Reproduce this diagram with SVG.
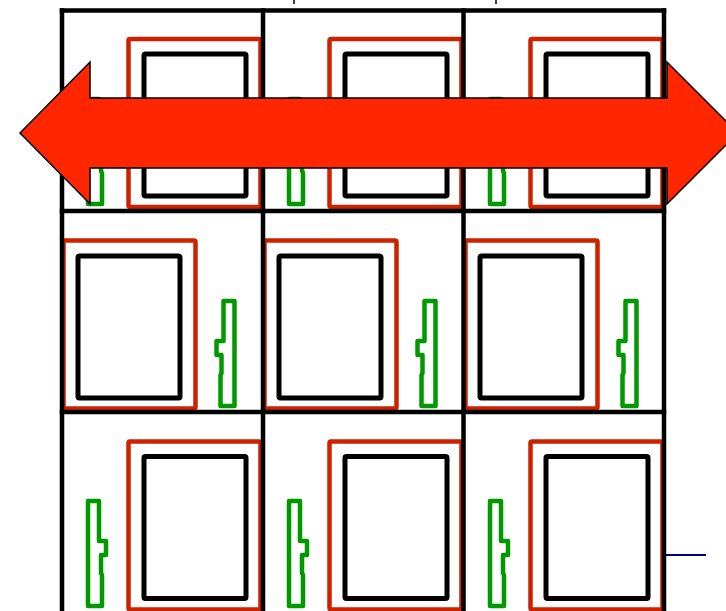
<svg xmlns="http://www.w3.org/2000/svg" width="726" height="611" viewBox="0 0 726 611">
<style>
.grid{stroke:#000;stroke-width:4.5;fill:none;stroke-linecap:square}
.frame{fill:none;stroke:#CC2200;stroke-width:4.5;stroke-linejoin:round}
.pane{fill:#fff;stroke:#000;stroke-width:5;stroke-linejoin:round}
.handle{fill:#fff;stroke:#009900;stroke-width:4.5;stroke-linejoin:round}
.arrow{fill:#FF2600;stroke:#000;stroke-width:1.5;stroke-linejoin:miter}
</style>
<defs>
<path id="h" d="M0,0 H11 V40 H18 V54 H13 V72 L14,74 V105 H0 Z"/>
</defs>
<rect width="726" height="611" fill="#fff"/>

<g id="cell-r1c1"><rect class="frame" x="128.5" y="39" width="132" height="168" rx="1.5"/><rect class="pane" x="144" y="54" width="102" height="142" rx="1.5"/><use class="handle" href="#h" transform="translate(88,99)"/></g>
<g id="cell-r1c2"><rect class="frame" x="329.5" y="39" width="132" height="168" rx="1.5"/><rect class="pane" x="345" y="54" width="102" height="142" rx="1.5"/><use class="handle" href="#h" transform="translate(289,99)"/></g>
<g id="cell-r1c3"><rect class="frame" x="530.5" y="39" width="132" height="168" rx="1.5"/><rect class="pane" x="546" y="54" width="102" height="142" rx="1.5"/><use class="handle" href="#h" transform="translate(490,99)"/></g>

<g id="cell-r2c1"><rect class="frame" x="63.5" y="240.5" width="132" height="168" rx="1.5"/><rect class="pane" x="78" y="256" width="102" height="142" rx="1.5"/><use class="handle" href="#h" transform="translate(234.5,301) scale(-1,1)"/></g>
<g id="cell-r2c2"><rect class="frame" x="264.5" y="240.5" width="132" height="168" rx="1.5"/><rect class="pane" x="279" y="256" width="102" height="142" rx="1.5"/><use class="handle" href="#h" transform="translate(435.5,301) scale(-1,1)"/></g>
<g id="cell-r2c3"><rect class="frame" x="465.5" y="240.5" width="132" height="168" rx="1.5"/><rect class="pane" x="480" y="256" width="102" height="142" rx="1.5"/><use class="handle" href="#h" transform="translate(636.5,301) scale(-1,1)"/></g>

<g id="cell-r3c1"><rect class="frame" x="128.5" y="441.5" width="132" height="168" rx="1.5"/><rect class="pane" x="144" y="456.5" width="102" height="142" rx="1.5"/><use class="handle" href="#h" transform="translate(88,501)"/></g>
<g id="cell-r3c2"><rect class="frame" x="329.5" y="441.5" width="132" height="168" rx="1.5"/><rect class="pane" x="345" y="456.5" width="102" height="142" rx="1.5"/><use class="handle" href="#h" transform="translate(289,501)"/></g>
<g id="cell-r3c3"><rect class="frame" x="530.5" y="441.5" width="132" height="168" rx="1.5"/><rect class="pane" x="546" y="456.5" width="102" height="142" rx="1.5"/><use class="handle" href="#h" transform="translate(490,501)"/></g>

<g id="grid" class="grid">
<line x1="62" y1="10.5" x2="62" y2="620"/>
<line x1="263" y1="10.5" x2="263" y2="620"/>
<line x1="463.5" y1="10.5" x2="463.5" y2="620"/>
<line x1="664" y1="10.5" x2="664" y2="620"/>
<line x1="62" y1="10.5" x2="664" y2="10.5"/>
<line x1="62" y1="211" x2="664" y2="211"/>
<line x1="62" y1="412" x2="664" y2="412"/>
</g>

<g id="connectors">
<line x1="294" y1="0" x2="294" y2="4" stroke="#000" stroke-width="1.5"/>
<line x1="496" y1="0" x2="496" y2="4" stroke="#000" stroke-width="1.5"/>
<line x1="666" y1="555" x2="706" y2="555" stroke="#000080" stroke-width="1.8"/>
</g>

<g id="arrow">
<polygon class="arrow" points="20,133 90,62 90,98 667,98 667,62 738,133 667,204 667,168 90,168 90,204"/>
</g>
</svg>
